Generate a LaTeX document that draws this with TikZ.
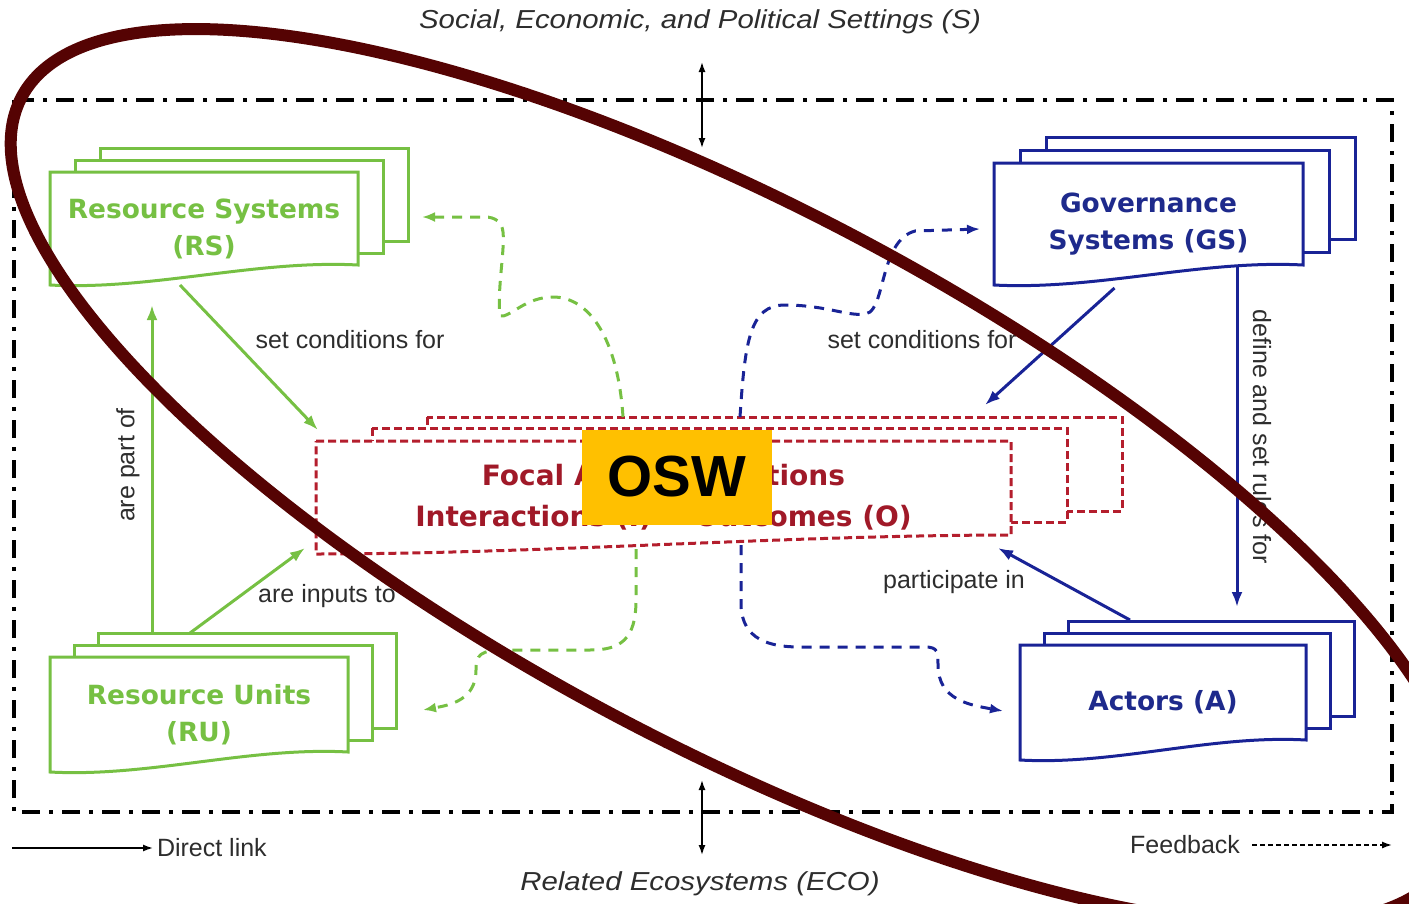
\documentclass[tikz,border=0pt]{standalone}
\usepackage{fontspec}
\setmainfont{Liberation Sans}
\newfontfamily\boxfont{DejaVu Sans}
\newfontfamily\widefont[FakeStretch=1.13]{Liberation Sans}
\usetikzlibrary{arrows.meta,calc,backgrounds}

\definecolor{sesgreen}{RGB}{118,192,67}
\definecolor{sesblue}{RGB}{25,35,150}
\definecolor{gsnavy}{RGB}{30,42,140}
\definecolor{sesred}{RGB}{180,30,45}
\definecolor{focalred}{RGB}{160,25,40}
\definecolor{linkgray}{RGB}{45,45,45}
\definecolor{ring}{RGB}{85,3,3}
\definecolor{oswgold}{RGB}{255,192,0}

% stack of sheets behind a text node: node, outline, drop of right end, wave depth, sheet offsets
\newcommand{\docstack}[5]{%
  \coordinate (#1-br) at ([yshift=#3pt]#1.south east);
  \begin{pgfonlayer}{background}
    \foreach \dx/\dy in {#5}
      \draw[#2, fill=white] ([shift={(\dx pt,\dy pt)}]#1.north west) rectangle ([shift={(\dx pt,\dy pt)}]#1-br);
    \draw[#2, fill=white] (#1.north west) -- (#1.north east) -- (#1-br)
      .. controls ($(#1-br)!0.33!(#1.south west)+(0pt,#4pt)$)
      and ($(#1-br)!0.67!(#1.south west)-(0pt,#4pt)$) .. (#1.south west) -- cycle;
  \end{pgfonlayer}}

\begin{document}
\begin{tikzpicture}[x=1pt, y=-1pt, outer sep=0pt]
  \tikzstyle{boxtext}=[inner sep=0pt, anchor=north west, align=center,
    font=\boxfont\bfseries\fontsize{26.4}{37}\selectfont]
  \tikzstyle{linktext}=[inner sep=0pt, text=linkgray, font=\fontsize{25}{30}\selectfont]
  \tikzstyle{greenline}=[draw=sesgreen, line width=3pt]
  \tikzstyle{blueline}=[draw=sesblue, line width=3pt]
  \tikzstyle{redline}=[draw=sesred, line width=3pt, dash pattern=on 8pt off 4pt]
  \tikzstyle{link}=[line width=3pt, -{Latex[length=15pt,width=11pt]}]
  \tikzstyle{feedback}=[line width=3pt, dash pattern=on 10pt off 8pt, -{Latex[length=13pt,width=10pt]}]
  \tikzstyle{scopearrow}=[line width=1.5pt, {Latex[length=10pt,width=7pt]}-{Latex[length=10pt,width=7pt]}]
  \tikzstyle{legendarrow}=[line width=1.5pt, -{Latex[length=10pt,width=7pt]}]

  \useasboundingbox (0,0) rectangle (1409,903);

  \draw[line width=3.5pt, dash pattern=on 18pt off 9pt on 4pt off 9pt] (14,100) rectangle (1392,812);

  \node[font=\widefont\itshape\fontsize{26}{30}\selectfont, text=linkgray] (settings) at (700,22)
    {Social, Economic, and Political Settings (S)};
  \node[font=\widefont\itshape\fontsize{26}{30}\selectfont, text=linkgray] (eco) at (700,884)
    {Related Ecosystems (ECO)};
  \coordinate (s-top) at (702,62);
  \coordinate (s-bot) at (702,148);
  \coordinate (eco-top) at (702,780);
  \coordinate (eco-bot) at (702,855);
  \draw[scopearrow] (s-top) -- (s-bot);
  \draw[scopearrow] (eco-top) -- (eco-bot);

  \node[boxtext, text=sesgreen, minimum width=308pt, minimum height=113pt] (rs) at (50,172)
    {Resource Systems\\(RS)};
  \docstack{rs}{greenline}{20}{12}{50/24,25/12}

  \node[boxtext, text=gsnavy, minimum width=309pt, minimum height=122pt] (gs) at (994,163)
    {Governance\\Systems (GS)};
  \docstack{gs}{blueline}{20}{12}{52/26,26/13}

  \node[boxtext, text=sesgreen, minimum width=298pt, minimum height=115pt] (ru) at (50,657)
    {Resource Units\\(RU)};
  \docstack{ru}{greenline}{20}{12}{48/24,24/12}

  \node[boxtext, text=gsnavy, minimum width=286pt, minimum height=115pt] (act) at (1020,645)
    {Actors (A)};
  \docstack{act}{blueline}{20}{12}{48/24,24/12}

  \node[boxtext, text=focalred, minimum width=695pt, minimum height=113pt,
    font=\boxfont\bfseries\fontsize{28}{41}\selectfont] (focal) at (316,441)
    {Focal Action Situations\\Interactions (I) → Outcomes (O)};
  \docstack{focal}{redline}{19}{6}{111/24,56/13}

  \draw[link, draw=sesgreen] ([xshift=-24pt]rs.south) -- ([shift={(2pt,11pt)}]focal.north west);
  \node[linktext] (rs-cond) at (350,340) {set conditions for};
  \draw[link, draw=sesgreen] ([shift={(102pt,24pt)}]ru.north west) -- ([shift={(102pt,-20pt)}]rs.south west);
  \node[linktext, rotate=90] (partof) at (128,465) {are part of};
  \draw[link, draw=sesgreen] ([shift={(140pt,24pt)}]ru.north west) -- ([shift={(-11pt,6pt)}]focal.south west);
  \node[linktext] (inputs) at (327,596) {are inputs to};

  \draw[link, draw=sesblue] ([shift={(-34pt,-3pt)}]gs.south) -- ([shift={(-26pt,36pt)}]focal.north east);
  \node[linktext] (gs-cond) at (922,340) {set conditions for};
  \draw[link, draw=sesblue] ([xshift=-66pt]gs-br) -- ([shift={(217pt,38pt)}]act.north west);
  \node[linktext, rotate=-90] (rules) at (1262,437) {define and set rules for};
  \draw[link, draw=sesblue] ([shift={(110pt,25pt)}]act.north west) -- ([shift={(-13pt,6pt)}]focal.south east);
  \node[linktext] (participate) at (954,582) {participate in};

  \coordinate (rs-in) at (422,217);
  \coordinate (ru-in) at (423,710);
  \coordinate (gs-in) at (980,229);
  \coordinate (act-in) at (1003,711);
  \draw[feedback, draw=sesgreen] ([shift={(307pt,24pt)}]focal.north west)
    .. controls (618,340) and (590,297) .. (553,297)
    .. controls (525,297) and (510,318) .. (500,316)
    .. controls (497,290) and (505,250) .. (503,232)
    .. controls (502,222) and (495,217) .. (485,217) -- (rs-in);
  \draw[feedback, draw=sesgreen] ([shift={(320pt,5pt)}]focal.south west) -- (636,600)
    .. controls (636,640) and (620,650) .. (590,650) -- (505,650)
    .. controls (480,650) and (476,655) .. (476,670)
    .. controls (476,700) and (450,705) .. (ru-in);
  \draw[feedback, draw=sesblue] ([shift={(424pt,24pt)}]focal.north west)
    .. controls (745,340) and (750,305) .. (785,305)
    .. controls (830,305) and (855,320) .. (870,312)
    .. controls (885,300) and (882,240) .. (915,231) -- (gs-in);
  \draw[feedback, draw=sesblue] ([shift={(425pt,9pt)}]focal.south west) -- (741,605)
    .. controls (742,640) and (770,647) .. (800,647) -- (925,647)
    .. controls (938,647) and (938,652) .. (938,665)
    .. controls (938,700) and (970,705) .. (act-in);

  \node[linktext, anchor=west] (direct) at (157,848) {Direct link};
  \coordinate (direct-tail) at (12,848);
  \draw[legendarrow] (direct-tail) -- ([xshift=-4pt]direct.west);
  \node[linktext, anchor=east] (fbtext) at (1240,845) {Feedback};
  \coordinate (fb-head) at (1392,845);
  \draw[legendarrow, dash pattern=on 5pt off 3pt] ([xshift=12pt]fbtext.east) -- (fb-head);

  \draw[draw=ring, line width=12pt] (737,477) ellipse [x radius=810, y radius=268, rotate=-28];
  \node[fill=oswgold, minimum width=190pt, minimum height=95pt, inner sep=0pt,
    font=\bfseries\fontsize{58}{60}\selectfont] (osw) at (677,477) {OSW};
\end{tikzpicture}
\end{document}
